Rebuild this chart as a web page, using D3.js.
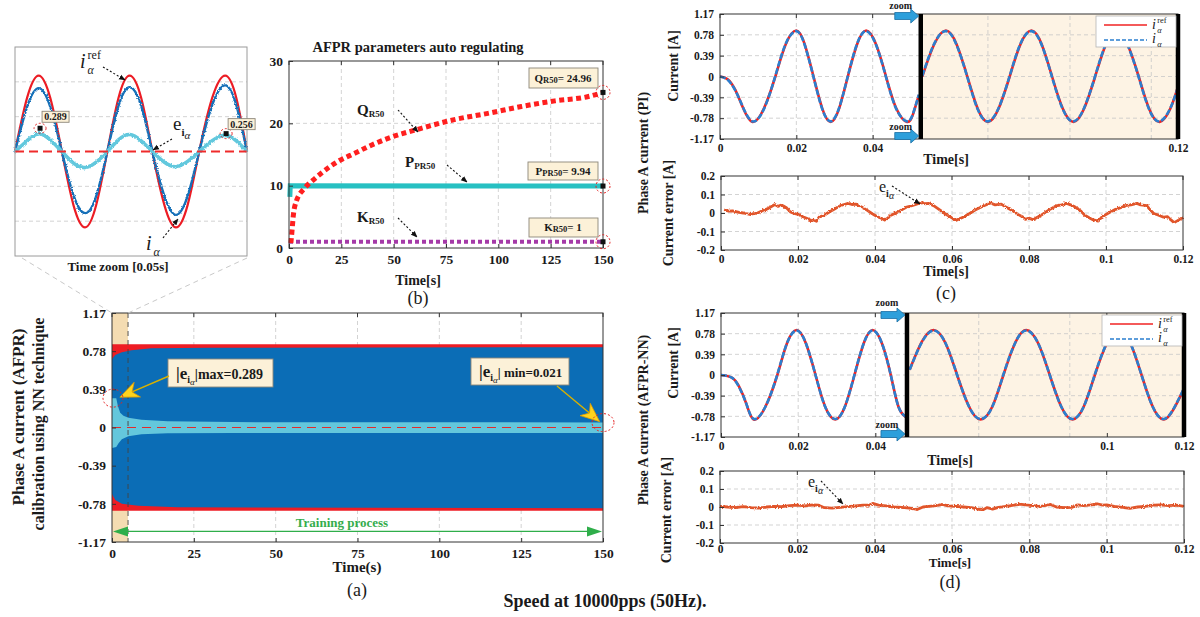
<!DOCTYPE html>
<html>
<head>
<meta charset="utf-8">
<script src="https://cdn.jsdelivr.net/npm/d3@7"></script>
<style>
  body { margin: 0; background: #fff; }
  svg { display: block; font-family: "Liberation Serif", "Times New Roman", serif; }
</style>
</head>
<body>
<div id="chart"></div>
<script>
// ---------------- data ----------------
// (a) 150 s training run, envelopes of the 50 Hz traces
var aTicksX = [0, 25, 50, 75, 100, 125, 150];
var aTicksY = [-1.17, -0.78, -0.39, 0, 0.39, 0.78, 1.17];
var aZoomWindow = [0, 4.9];
var aRefUpper = [[0, 0.85], [150, 0.85]];
var aRefLower = [[0, -0.85], [150, -0.85]];
var aIaUpper = [[0, 0.70], [1, 0.74], [3, 0.77], [6, 0.79], [12, 0.81], [30, 0.815], [150, 0.82]];
var aIaLower = [[0, -0.68], [1, -0.74], [3, -0.78], [8, -0.80], [20, -0.815], [150, -0.825]];
var aErrUpper = [[0, 0.30], [1.3, 0.30], [1.8, 0.22], [2.5, 0.15], [3.5, 0.12], [5, 0.10], [9, 0.078], [17, 0.065], [37, 0.055], [150, 0.052]];
var aErrLower = [[0, -0.21], [1.3, -0.20], [2, -0.16], [3, -0.12], [5, -0.09], [9, -0.07], [17, -0.06], [37, -0.056], [150, -0.055]];

// inset : first 0.05 s of the run
var insetT   = [0, 0.0026, 0.0051, 0.0076, 0.0101, 0.0126, 0.0151, 0.0175, 0.0199, 0.0223, 0.0247, 0.0272, 0.0296, 0.0322, 0.0347, 0.0372, 0.0397, 0.0425, 0.0453, 0.0477, 0.05];
var insetRef = [0, 0.6, 0.85, 0.6, 0, -0.6, -0.85, -0.6, 0, 0.6, 0.85, 0.6, 0, -0.6, -0.85, -0.6, 0, 0.6, 0.85, 0.6, 0];
var insetIa  = [0, 0.5, 0.71, 0.5, 0, -0.49, -0.69, -0.5, 0, 0.51, 0.72, 0.51, 0, -0.5, -0.71, -0.5, 0, 0.52, 0.74, 0.52, 0];
var insetErr = [0, 0.12, 0.2, 0.13, 0, -0.13, -0.18, -0.12, 0, 0.13, 0.19, 0.12, 0, -0.12, -0.17, -0.11, 0, 0.12, 0.18, 0.12, 0];
var insetGridY = [-0.78, -0.39, 0.39, 0.78];
var insetMarks = [[0.0054, 0.26, "0.289"], [0.0455, 0.2, "0.256"]];

// (b) AFPR parameters
var bTicksX = [0, 25, 50, 75, 100, 125, 150];
var bTicksY = [0, 10, 20, 30];
var bQ = [[0.9, 0.8], [1.5, 3], [2, 5], [3.5, 7.5], [7.5, 9.6], [11.5, 10.9], [15.4, 12], [23.4, 13.9], [31.4, 15.2], [39.3, 16.5], [47.3, 17.6], [63.2, 19.2], [79, 20.6], [95, 21.6], [111, 22.7], [127, 23.6], [143, 24.3], [150, 24.96]];
var bP = [[0.4, 8.2], [0.6, 10], [150, 9.94]];
var bK = [[0, 1], [150, 1]];
var bFinal = [24.96, 9.94, 1];

// (c) PI controller
var yCurTicks = [-1.17, -0.78, -0.39, 0, 0.39, 0.78, 1.17];
var errTicksX = [0, 0.02, 0.04, 0.06, 0.08, 0.1, 0.12];
var errTicksY = [-0.2, -0.1, 0, 0.1, 0.2];
var cTicksX = [0, 0.02, 0.04, 0.12];
var cGridX = [0.02, 0.04, 0.0702, 0.0917, 0.113];
var cZoomStart = 0.0526;
var cTime1 = [0, 0.002, 0.004, 0.006, 0.0085, 0.0115, 0.0145, 0.0172, 0.02, 0.0222, 0.0245, 0.0268, 0.029, 0.0312, 0.0335, 0.0359, 0.0383, 0.0409, 0.0435, 0.0462, 0.049, 0.0506, 0.0521];
var cRef1  = [0, -0.05, -0.25, -0.58, -0.85, -0.6, 0, 0.6, 0.86, 0.6, 0, -0.6, -0.85, -0.6, 0, 0.6, 0.86, 0.6, 0, -0.6, -0.85, -0.7, -0.35];
var cIa1   = [0, -0.06, -0.26, -0.57, -0.84, -0.61, 0.01, 0.61, 0.85, 0.59, -0.01, -0.61, -0.84, -0.59, 0.01, 0.61, 0.85, 0.59, -0.01, -0.61, -0.84, -0.69, -0.34];
var cTime2 = [0.053, 0.0561, 0.0592, 0.062, 0.0648, 0.0675, 0.0702, 0.073, 0.0759, 0.0787, 0.0816, 0.0843, 0.087, 0.0898, 0.0926, 0.0954, 0.0983, 0.1011, 0.104, 0.1068, 0.1097, 0.1124, 0.1152, 0.118, 0.12];
var cRef2  = [0, 0.6, 0.86, 0.6, 0, -0.6, -0.85, -0.6, 0, 0.6, 0.86, 0.6, 0, -0.6, -0.85, -0.6, 0, 0.6, 0.86, 0.6, 0, -0.6, -0.85, -0.6, -0.19];
var cIa2   = [0.01, 0.61, 0.85, 0.59, -0.01, -0.61, -0.84, -0.59, 0.01, 0.61, 0.85, 0.59, -0.01, -0.61, -0.84, -0.59, 0.01, 0.61, 0.85, 0.59, -0.01, -0.61, -0.84, -0.59, -0.2];
var cErr = [[0.0008, 0.017], [0.002, 0.01], [0.003, 0.012], [0.0047, 0.004], [0.0058, 0.0], [0.0066, -0.004], [0.0075, -0.008], [0.0085, -0.004], [0.0095, 0.0], [0.011, 0.015], [0.012, 0.022], [0.013, 0.034], [0.014, 0.046], [0.0148, 0.036], [0.0155, 0.042], [0.0162, 0.038], [0.017, 0.028], [0.018, 0.006], [0.019, -0.002], [0.02, -0.007], [0.0213, -0.02], [0.0227, -0.032], [0.0235, -0.042], [0.024, -0.038], [0.0248, -0.045], [0.0255, -0.022], [0.0268, -0.012], [0.028, 0.004], [0.0295, 0.022], [0.031, 0.04], [0.032, 0.046], [0.033, 0.052], [0.034, 0.046], [0.035, 0.048], [0.0365, 0.032], [0.038, 0.014], [0.0393, -0.004], [0.0406, -0.02], [0.0418, -0.03], [0.0425, -0.038], [0.0433, -0.028], [0.044, -0.014], [0.046, 0.006], [0.048, 0.03], [0.05, 0.042], [0.052, 0.056], [0.053, 0.05], [0.054, 0.052], [0.0555, 0.036], [0.057, 0.014], [0.0582, -0.004], [0.0595, -0.02], [0.0605, -0.034], [0.061, -0.04], [0.063, -0.022], [0.0645, -0.004], [0.066, 0.016], [0.068, 0.036], [0.07, 0.054], [0.0712, 0.044], [0.0728, 0.048], [0.074, 0.032], [0.0756, 0.014], [0.077, -0.006], [0.0784, -0.022], [0.079, -0.034], [0.08, -0.028], [0.081, -0.036], [0.083, -0.014], [0.085, 0.014], [0.087, 0.038], [0.0885, 0.044], [0.0898, 0.052], [0.0908, 0.044], [0.092, 0.032], [0.0935, 0.01], [0.0945, -0.012], [0.0955, -0.024], [0.0965, -0.036], [0.098, -0.044], [0.099, -0.02], [0.1, -0.008], [0.101, 0.004], [0.1025, 0.02], [0.104, 0.03], [0.105, 0.04], [0.1065, 0.044], [0.108, 0.052], [0.109, 0.044], [0.1106, 0.04], [0.1115, 0.016], [0.1125, -0.004], [0.1135, -0.01], [0.1148, -0.022], [0.116, -0.02], [0.1168, -0.036], [0.1177, -0.052], [0.1187, -0.04], [0.1195, -0.03], [0.12, -0.024]];

// (d) AFPR-NN controller
var dTicksX = [0, 0.02, 0.04, 0.1, 0.12];
var dGridX = [0.02, 0.04, 0.0668, 0.0904];
var dZoomStart = 0.0482;
var dTime1 = [0, 0.0028, 0.0047, 0.0066, 0.0085, 0.0115, 0.0146, 0.0171, 0.0196, 0.022, 0.0245, 0.027, 0.0296, 0.0321, 0.0346, 0.037, 0.0393, 0.0417, 0.044, 0.046, 0.048];
var dRef1  = [0, -0.05, -0.22, -0.55, -0.84, -0.6, 0, 0.6, 0.85, 0.6, 0, -0.6, -0.84, -0.6, 0, 0.6, 0.85, 0.6, 0, -0.6, -0.8];
var dIa1   = [0, -0.05, -0.23, -0.55, -0.83, -0.6, 0.01, 0.6, 0.84, 0.6, 0, -0.6, -0.83, -0.6, 0.01, 0.6, 0.84, 0.6, 0, -0.6, -0.79];
var dTime2 = [0.0489, 0.052, 0.0551, 0.0582, 0.0612, 0.0643, 0.0673, 0.0703, 0.0732, 0.0762, 0.0791, 0.0822, 0.0852, 0.0882, 0.0911, 0.094, 0.0969, 0.1, 0.1031, 0.1061, 0.109, 0.1119, 0.1148, 0.1175, 0.12];
var dRef2  = [0.1, 0.62, 0.85, 0.6, 0, -0.6, -0.84, -0.6, 0, 0.6, 0.85, 0.6, 0, -0.6, -0.84, -0.6, 0, 0.6, 0.85, 0.6, 0, -0.6, -0.84, -0.62, -0.26];
var dIa2   = [0.1, 0.61, 0.84, 0.6, 0, -0.6, -0.83, -0.6, 0.01, 0.6, 0.84, 0.6, 0, -0.6, -0.83, -0.6, 0.01, 0.6, 0.84, 0.6, 0, -0.6, -0.83, -0.61, -0.25];
var dErr = [[0, 0.004], [0.002, 0.0], [0.004, -0.004], [0.006, 0.002], [0.008, -0.003], [0.01, -0.006], [0.012, 0.0], [0.014, 0.004], [0.016, 0.002], [0.018, 0.008], [0.02, 0.01], [0.022, 0.006], [0.024, 0.012], [0.0255, 0.01], [0.027, -0.004], [0.029, -0.006], [0.031, -0.002], [0.033, 0.002], [0.035, 0.006], [0.037, 0.01], [0.0385, 0.01], [0.0395, 0.02], [0.041, 0.01], [0.043, 0.006], [0.045, 0.0], [0.047, -0.002], [0.049, -0.006], [0.051, -0.014], [0.0525, 0.0], [0.054, 0.004], [0.056, 0.008], [0.0575, 0.014], [0.059, 0.006], [0.061, 0.004], [0.063, 0.0], [0.065, -0.004], [0.0665, -0.01], [0.068, -0.016], [0.069, -0.004], [0.0705, -0.012], [0.072, -0.002], [0.074, 0.004], [0.076, 0.01], [0.0775, 0.016], [0.079, 0.012], [0.081, 0.008], [0.083, 0.004], [0.0855, 0.014], [0.087, 0.0], [0.089, -0.004], [0.091, -0.002], [0.0925, 0.012], [0.094, 0.008], [0.096, 0.012], [0.0975, 0.018], [0.099, 0.01], [0.1, 0.012], [0.102, 0.004], [0.104, -0.002], [0.106, -0.008], [0.108, 0.0], [0.11, 0.004], [0.112, 0.01], [0.114, 0.012], [0.116, 0.008], [0.118, 0.01], [0.12, 0.004]];

// ---------------- canvas ----------------
var width = 1200, height = 617;
var svg = d3.select("#chart").append("svg")
    .attr("width", width)
    .attr("height", height);

var defs = svg.append("defs");
defs.append("marker").attr("id", "arrowBlack")
    .attr("viewBox", "0 0 10 10").attr("refX", 9).attr("refY", 5)
    .attr("markerWidth", 6).attr("markerHeight", 6).attr("orient", "auto")
    .append("path").attr("d", "M0,1 L10,5 L0,9 Z").attr("fill", "#111");
var rough = defs.append("filter").attr("id", "rough")
    .attr("x", "-5%").attr("y", "-10%").attr("width", "110%").attr("height", "120%");
rough.append("feTurbulence").attr("type", "fractalNoise").attr("baseFrequency", "0.7")
    .attr("numOctaves", 2).attr("seed", 4).attr("result", "noise");
rough.append("feDisplacementMap").attr("in", "SourceGraphic").attr("in2", "noise")
    .attr("scale", 3).attr("xChannelSelector", "R").attr("yChannelSelector", "G");

// ---------------- helpers ----------------
function pairs(t, v) { return t.map(function(d, i) { return [d, v[i]]; }); }

function grid(g, xs, ys, gx, gy) {
    g.selectAll(null).data(gx).enter().append("line")
        .attr("x1", function(d) { return xs(d); }).attr("x2", function(d) { return xs(d); })
        .attr("y1", ys.range()[0]).attr("y2", ys.range()[1])
        .attr("stroke", "#c8c8c8").attr("stroke-width", 0.8).attr("stroke-dasharray", "4,3");
    g.selectAll(null).data(gy).enter().append("line")
        .attr("y1", function(d) { return ys(d); }).attr("y2", function(d) { return ys(d); })
        .attr("x1", xs.range()[0]).attr("x2", xs.range()[1])
        .attr("stroke", "#c8c8c8").attr("stroke-width", 0.8).attr("stroke-dasharray", "4,3");
}

function frameAxes(g, xs, ys, xt, yt, fs, pad) {
    var x0 = xs.range()[0], x1 = xs.range()[1], y0 = ys.range()[0], y1 = ys.range()[1];
    var fmt = function(d) { return String(d); };
    var xa = g.append("g").attr("transform", "translate(0," + y0 + ")")
        .call(d3.axisBottom(xs).tickValues(xt).tickFormat(fmt).tickSizeInner(-4).tickSizeOuter(0).tickPadding(pad === undefined ? 6 : pad));
    var ya = g.append("g").attr("transform", "translate(" + x0 + ",0)")
        .call(d3.axisLeft(ys).tickValues(yt).tickFormat(fmt).tickSizeInner(-4).tickSizeOuter(0).tickPadding(6));
    [xa, ya].forEach(function(a) {
        a.attr("font-family", null).attr("font-size", null);
        a.select(".domain").remove();
        a.selectAll("line").attr("stroke", "#333");
        a.selectAll("text").attr("font-size", fs).attr("font-weight", "bold").attr("fill", "#1a1a1a");
    });
    // mirrored ticks on top edge
    g.selectAll(null).data(xt).enter().append("line")
        .attr("x1", function(d) { return xs(d); }).attr("x2", function(d) { return xs(d); })
        .attr("y1", y1).attr("y2", y1 + 4).attr("stroke", "#333");
    g.append("rect").attr("x", x0).attr("y", y1).attr("width", x1 - x0).attr("height", y0 - y1)
        .attr("fill", "none").attr("stroke", "#333").attr("stroke-width", 1);
}

function rich(g, x, y, parts, size, anchor) {
    var t = g.append("text").attr("x", x).attr("y", y).attr("font-size", size)
        .attr("font-weight", "bold").attr("fill", "#1a1a1a").attr("text-anchor", anchor || "start");
    var cur = 0;
    parts.forEach(function(p) {
        var s = p.dy || 0;
        var ts = t.append("tspan").attr("dy", s - cur).text(p.t);
        if (p.size) ts.attr("font-size", p.size);
        if (p.italic) ts.attr("font-style", "italic");
        if (p.normal) ts.attr("font-weight", "normal");
        cur = s;
    });
    return t;
}

// italic i with stacked superscript / subscript, as separate text nodes
function iSymbol(g, x, y, size, sup) {
    g.append("text").attr("x", x).attr("y", y).attr("font-size", size).attr("font-style", "italic")
        .attr("fill", "#1a1a1a").text("i");
    var s = size * 0.6;
    if (sup) {
        g.append("text").attr("x", x + size * 0.38).attr("y", y - size * 0.45).attr("font-size", s)
            .attr("fill", "#1a1a1a").text(sup);
    }
    g.append("text").attr("x", x + size * 0.38).attr("y", y + size * 0.3).attr("font-size", s)
        .attr("font-style", "italic").attr("fill", "#1a1a1a").text("α");
}

function vtext(g, x, y, str, size) {
    g.append("text").attr("transform", "translate(" + x + "," + y + ") rotate(-90)")
        .attr("text-anchor", "middle").attr("dominant-baseline", "central")
        .attr("font-size", size).attr("font-weight", "bold").attr("fill", "#1a1a1a").text(str);
}

function dotArrow(g, x1, y1, x2, y2) {
    g.append("line").attr("x1", x1).attr("y1", y1).attr("x2", x2).attr("y2", y2)
        .attr("stroke", "#111").attr("stroke-width", 1.1).attr("stroke-dasharray", "2,2")
        .attr("marker-end", "url(#arrowBlack)");
}

function yellowArrow(g, x1, y1, x2, y2) {
    var a = Math.atan2(y2 - y1, x2 - x1), L = 19, W = 8;
    var ca = Math.cos(a), sa = Math.sin(a);
    g.append("line").attr("x1", x1).attr("y1", y1).attr("x2", x2 - ca * L * 0.6).attr("y2", y2 - sa * L * 0.6)
        .attr("stroke", "#d9b100").attr("stroke-width", 1.4);
    var bx = x2 - ca * L, by = y2 - sa * L, nx = x2 - ca * L * 0.7, ny = y2 - sa * L * 0.7;
    var pts = [[x2, y2], [bx - sa * W, by + ca * W], [nx, ny], [bx + sa * W, by - ca * W]];
    g.append("polygon").attr("points", pts.map(function(p) { return p.join(","); }).join(" "))
        .attr("fill", "#ffd41c").attr("stroke", "#e09a00").attr("stroke-width", 0.8);
}

function noteBox(g, x, y, w, h) {
    g.append("rect").attr("x", x).attr("y", y).attr("width", w).attr("height", h)
        .attr("fill", "#fcf1d8").attr("stroke", "#8d877a").attr("stroke-width", 0.9);
}

function dotCircle(g, cx, cy, rx, ry) {
    g.append("ellipse").attr("cx", cx).attr("cy", cy).attr("rx", rx).attr("ry", ry)
        .attr("fill", "none").attr("stroke", "#e52222").attr("stroke-width", 1).attr("stroke-dasharray", "2,2");
}

function blockArrow(g, x0, x1, y) {
    var p = [[x0, y - 3.5], [x1 - 8, y - 3.5], [x1 - 8, y - 7], [x1, y], [x1 - 8, y + 7], [x1 - 8, y + 3.5], [x0, y + 3.5]];
    g.append("polygon").attr("points", p.map(function(d) { return d.join(","); }).join(" "))
        .attr("fill", "#2d9fdb").attr("stroke", "#1b6ea3").attr("stroke-width", 0.8);
}

// ---------------- (a) training process ----------------
var ax = d3.scaleLinear().domain([0, 150]).range([112, 603]);
var ay = d3.scaleLinear().domain([-1.17, 1.17]).range([542, 313]);
var ga = svg.append("g");
ga.append("rect").attr("x", ax(aZoomWindow[0])).attr("y", ay(1.17))
    .attr("width", ax(aZoomWindow[1]) - ax(aZoomWindow[0])).attr("height", ay(-1.17) - ay(1.17))
    .attr("fill", "#f4dcb2");
grid(ga, ax, ay, aTicksX.slice(1, -1), []);

var envLine = d3.line().x(function(d) { return ax(d[0]); }).y(function(d) { return ay(d[1]); });
function band(up, lo, fill) {
    ga.append("path").attr("d", envLine(up.concat(lo.slice().reverse())) + "Z").attr("fill", fill);
}
band(aRefUpper, aRefLower, "#ee1d24");
band(aIaUpper, aIaLower, "#0b6db6");
band(aErrUpper, aErrLower, "#64c7dc");

ga.append("line").attr("x1", ax(0)).attr("x2", ax(150)).attr("y1", ay(0)).attr("y2", ay(0))
    .attr("stroke", "#e32a2a").attr("stroke-width", 1.2).attr("stroke-dasharray", "9,6");
ga.append("line").attr("x1", ax(aZoomWindow[1])).attr("x2", ax(aZoomWindow[1]))
    .attr("y1", ay(1.17)).attr("y2", ay(-1.17))
    .attr("stroke", "#444").attr("stroke-width", 0.9).attr("stroke-dasharray", "5,4");

// training arrow
var trY = ay(-1.062);
ga.append("line").attr("x1", ax(0) + 12).attr("x2", ax(150) - 12).attr("y1", trY).attr("y2", trY)
    .attr("stroke", "#2fae4a").attr("stroke-width", 1.3);
ga.append("polygon").attr("points", [[ax(0) + 1, trY], [ax(0) + 16, trY - 5], [ax(0) + 16, trY + 5]].join(" "))
    .attr("fill", "#2fae4a");
ga.append("polygon").attr("points", [[ax(150) - 1, trY], [ax(150) - 16, trY - 5], [ax(150) - 16, trY + 5]].join(" "))
    .attr("fill", "#2fae4a");
ga.append("text").attr("x", 342).attr("y", trY - 4).attr("text-anchor", "middle")
    .attr("font-size", 13).attr("font-weight", "bold").attr("fill", "#34ad4c").text("Training process");

frameAxes(ga, ax, ay, aTicksX, aTicksY, 13.5);

// annotations on (a)
noteBox(ga, 168, 359, 105, 28);
rich(ga, 176, 379, [{t: "|e"}, {t: "i", dy: 4, size: 10}, {t: "α", dy: 6, size: 9, italic: true, normal: true}, {t: "|max=0.289", dy: 0, size: 14}], 17);
yellowArrow(ga, 169, 376, ax(2.4), ay(0.31));
dotCircle(ga, ax(0.3), ay(0.3), 10, 9);

noteBox(ga, 471, 358, 98, 27);
rich(ga, 479, 377, [{t: "|e"}, {t: "i", dy: 4, size: 10}, {t: "α", dy: 6, size: 9, italic: true, normal: true}, {t: "| min=0.021", dy: 0, size: 13}], 17);
yellowArrow(ga, 557, 386, ax(149), ay(0.06));
dotCircle(ga, ax(150), ay(0.05), 11, 9);

ga.append("text").attr("x", 357).attr("y", 572).attr("text-anchor", "middle")
    .attr("font-size", 15).attr("font-weight", "bold").attr("fill", "#1a1a1a").text("Time(s)");
ga.append("text").attr("x", 357).attr("y", 596).attr("text-anchor", "middle")
    .attr("font-size", 18).attr("fill", "#1a1a1a").text("(a)");
vtext(ga, 18, 417, "Phase A current (AFPR)", 17);
vtext(ga, 38, 424, "calibration using NN technique", 16);

// ---------------- inset ----------------
var ix = d3.scaleLinear().domain([0, 0.05]).range([15, 247]);
var iy = d3.scaleLinear().domain([-1.17, 1.17]).range([256, 47]);
var gi = svg.append("g");
gi.append("line").attr("x1", 22).attr("y1", 258).attr("x2", ax(aZoomWindow[0])).attr("y2", ay(1.17))
    .attr("stroke", "#c9c9c9").attr("stroke-dasharray", "5,4");
gi.append("line").attr("x1", 247).attr("y1", 258).attr("x2", ax(aZoomWindow[1])).attr("y2", ay(1.17))
    .attr("stroke", "#c9c9c9").attr("stroke-dasharray", "5,4");
grid(gi, ix, iy, [], insetGridY);
var iLine = d3.line().curve(d3.curveNatural).x(function(d) { return ix(d[0]); }).y(function(d) { return iy(d[1]); });
gi.append("path").attr("d", iLine(pairs(insetT, insetRef))).attr("fill", "none").attr("stroke", "#ec1c24").attr("stroke-width", 2.2);
gi.append("path").attr("d", iLine(pairs(insetT, insetIa))).attr("fill", "none").attr("stroke", "#146fb8").attr("stroke-width", 2.4).attr("filter", "url(#rough)");
gi.append("path").attr("d", iLine(pairs(insetT, insetErr))).attr("fill", "none").attr("stroke", "#62c8dd").attr("stroke-width", 3.6).attr("filter", "url(#rough)");
gi.append("line").attr("x1", ix(0)).attr("x2", ix(0.05)).attr("y1", iy(0)).attr("y2", iy(0))
    .attr("stroke", "#ef2b2b").attr("stroke-width", 1.8).attr("stroke-dasharray", "9,5");
gi.append("rect").attr("x", 15).attr("y", 47).attr("width", 232).attr("height", 209)
    .attr("fill", "none").attr("stroke", "#9a9a9a").attr("stroke-width", 1);
insetMarks.forEach(function(m, k) {
    var cx = ix(m[0]), cy = iy(m[1]);
    dotCircle(gi, cx, cy, 6, 5);
    gi.append("rect").attr("x", cx - 2.5).attr("y", cy - 2.5).attr("width", 5).attr("height", 5).attr("fill", "#111");
    var bx = cx + 2, by = k === 0 ? cy - 17 : cy - 15;
    noteBox(gi, bx, by, 27, 11);
    gi.append("text").attr("x", bx + 13.5).attr("y", by + 9).attr("text-anchor", "middle")
        .attr("font-size", 10).attr("font-weight", "bold").attr("fill", "#1a1a1a").text(m[2]);
});
iSymbol(gi, 80, 68, 20, "ref");
dotArrow(gi, 103, 67, 125, 80);
rich(gi, 173, 130, [{t: "e", normal: true}, {t: "i", dy: 6, size: 11}, {t: "α", dy: 9, size: 11, italic: true, normal: true}], 19);
dotArrow(gi, 172, 139, 153, 150);
iSymbol(gi, 146, 250, 20, null);
dotArrow(gi, 163, 238, 178, 219);
gi.append("text").attr("x", 118).attr("y", 271).attr("text-anchor", "middle")
    .attr("font-size", 13).attr("font-weight", "bold").attr("fill", "#1a1a1a").text("Time zoom [0.05s]");

// ---------------- (b) parameters ----------------
var bx = d3.scaleLinear().domain([0, 150]).range([289, 603]);
var by = d3.scaleLinear().domain([0, 30]).range([248, 61]);
var gb = svg.append("g");
grid(gb, bx, by, bTicksX.slice(1, -1), bTicksY.slice(1, -1));
var bLine = d3.line().x(function(d) { return bx(d[0]); }).y(function(d) { return by(d[1]); });
gb.append("path").attr("d", bLine(bK)).attr("fill", "none").attr("stroke", "#a53aa8").attr("stroke-width", 4).attr("stroke-dasharray", "4,3");
gb.append("path").attr("d", bLine(bP)).attr("fill", "none").attr("stroke", "#27c0c2").attr("stroke-width", 5);
gb.append("path").attr("d", d3.line().curve(d3.curveMonotoneX).x(function(d) { return bx(d[0]); }).y(function(d) { return by(d[1]); })(bQ))
    .attr("fill", "none").attr("stroke", "#ff1f1f").attr("stroke-width", 5).attr("stroke-dasharray", "5,3.5");
frameAxes(gb, bx, by, bTicksX, bTicksY, 13.5);
bFinal.forEach(function(v) {
    dotCircle(gb, bx(150), by(v), 7, 7);
    gb.append("rect").attr("x", bx(150) - 2.5).attr("y", by(v) - 2.5).attr("width", 5).attr("height", 5).attr("fill", "#111");
});
noteBox(gb, 529, 68, 69, 20);
rich(gb, 563, 82, [{t: "Q"}, {t: "R50", dy: 1, size: 8.5}, {t: "= 24.96", dy: 0}], 11, "middle");
noteBox(gb, 528, 162, 70, 18);
rich(gb, 563, 175, [{t: "P"}, {t: "PR50", dy: 1, size: 8.5}, {t: "= 9.94", dy: 0}], 11, "middle");
noteBox(gb, 529, 218, 69, 19);
rich(gb, 563, 231, [{t: "K"}, {t: "R50", dy: 1, size: 8.5}, {t: "= 1", dy: 0}], 11, "middle");
rich(gb, 357, 115, [{t: "Q"}, {t: "R50", dy: 2, size: 9}], 15);
dotArrow(gb, 398, 110, 418, 132);
rich(gb, 405, 167, [{t: "P"}, {t: "PR50", dy: 2, size: 9}], 15);
dotArrow(gb, 447, 165, 467, 182);
rich(gb, 357, 222, [{t: "K"}, {t: "R50", dy: 2, size: 9}], 15);
dotArrow(gb, 398, 218, 417, 237);
gb.append("text").attr("x", 418).attr("y", 52).attr("text-anchor", "middle")
    .attr("font-size", 14.5).attr("font-weight", "bold").attr("fill", "#1a1a1a").text("AFPR parameters auto regulating");
gb.append("text").attr("x", 418).attr("y", 285).attr("text-anchor", "middle")
    .attr("font-size", 14).attr("font-weight", "bold").attr("fill", "#1a1a1a").text("Time[s]");
gb.append("text").attr("x", 418).attr("y", 304).attr("text-anchor", "middle")
    .attr("font-size", 18).attr("fill", "#1a1a1a").text("(b)");

// ---------------- (c) and (d) ----------------
function currentPanel(g, xs, ys, o) {
    g.append("rect").attr("x", xs(o.zoomStart)).attr("y", ys.range()[1])
        .attr("width", xs.range()[1] - xs(o.zoomStart)).attr("height", ys.range()[0] - ys.range()[1])
        .attr("fill", "#fdf3e4");
    grid(g, xs, ys, o.gridX, yCurTicks.slice(1, -1));
    var ln = d3.line().curve(d3.curveNatural).x(function(d) { return xs(d[0]); }).y(function(d) { return ys(d[1]); });
    o.segments.forEach(function(s) {
        g.append("path").attr("d", ln(pairs(s[0], s[1]))).attr("fill", "none").attr("stroke", "#f02323").attr("stroke-width", 2.6);
        g.append("path").attr("d", ln(pairs(s[0], s[2]))).attr("fill", "none").attr("stroke", "#2a7fd0").attr("stroke-width", 2.6).attr("stroke-dasharray", "6,2");
    });
    frameAxes(g, xs, ys, o.ticksX, yCurTicks, 11.5, 5);
    [xs(o.zoomStart), xs.range()[1]].forEach(function(x) {
        g.append("line").attr("x1", x).attr("x2", x).attr("y1", ys.range()[1]).attr("y2", ys.range()[0])
            .attr("stroke", "#000").attr("stroke-width", 4.5);
    });
    // legend
    var lx = xs.range()[1] - 82, ly = ys.range()[1] + 2;
    g.append("rect").attr("x", lx).attr("y", ly).attr("width", 80).attr("height", 31)
        .attr("fill", "#fff").attr("stroke", "#b5b5b5").attr("stroke-width", 0.8);
    g.append("line").attr("x1", lx + 8).attr("x2", lx + 51).attr("y1", ly + 9).attr("y2", ly + 9).attr("stroke", "#f02323").attr("stroke-width", 1.6);
    g.append("line").attr("x1", lx + 8).attr("x2", lx + 51).attr("y1", ly + 24).attr("y2", ly + 24).attr("stroke", "#2a7fd0").attr("stroke-width", 1.6).attr("stroke-dasharray", "4,2");
    iSymbol(g, lx + 56, ly + 13, 14, "ref");
    iSymbol(g, lx + 56, ly + 27, 14, null);
    // zoom markers
    var zx = xs(o.zoomStart);
    blockArrow(g, zx - 26, zx - 2, ys.range()[1] + 2);
    blockArrow(g, zx - 26, zx - 2, ys.range()[0] - 3);
    g.append("text").attr("x", zx - 20).attr("y", Math.max(ys.range()[1] - 7, 9)).attr("text-anchor", "middle")
        .attr("font-size", 10).attr("font-weight", "bold").attr("fill", "#1a1a1a").text("zoom");
    g.append("text").attr("x", zx - 20).attr("y", ys.range()[0] - 9).attr("text-anchor", "middle")
        .attr("font-size", 10).attr("font-weight", "bold").attr("fill", "#1a1a1a").text("zoom");
}

function errorPanel(g, xs, ys, data, lab, pad) {
    grid(g, xs, ys, errTicksX.slice(1, -1), errTicksY.slice(1, -1));
    g.append("path").attr("d", d3.line().x(function(d) { return xs(d[0]); }).y(function(d) { return ys(d[1]); })(data))
        .attr("fill", "none").attr("stroke", "#e1542a").attr("stroke-width", 2.8).attr("stroke-linejoin", "round").attr("filter", "url(#rough)");
    frameAxes(g, xs, ys, errTicksX, errTicksY, 11.5, pad);
    rich(g, lab[0], lab[1], [{t: "e", normal: true}, {t: "i", dy: 5, size: 10}, {t: "α", dy: 7, size: 10, italic: true, normal: true}], 16);
    dotArrow(g, lab[0] + 13, lab[1] - 6, lab[2], lab[3]);
}

// (c)
var gc = svg.append("g");
var cx1 = d3.scaleLinear().domain([0, 0.12]).range([720, 1178]);
var cy1 = d3.scaleLinear().domain([-1.17, 1.17]).range([139, 14]);
currentPanel(gc, cx1, cy1, {zoomStart: cZoomStart, gridX: cGridX, ticksX: cTicksX,
    segments: [[cTime1, cRef1, cIa1], [cTime2, cRef2, cIa2]]});
var cx2 = d3.scaleLinear().domain([0, 0.12]).range([721, 1183]);
var cy2 = d3.scaleLinear().domain([-0.2, 0.2]).range([250, 176]);
errorPanel(gc, cx2, cy2, cErr, [879, 192, 920, 204], 5);
vtext(gc, 673, 66, "Current [A]", 14);
vtext(gc, 668, 213, "Current error [A]", 14);
vtext(gc, 643, 153, "Phase A current (PI)", 14);
gc.append("text").attr("x", 946).attr("y", 164).attr("text-anchor", "middle").attr("font-size", 14).attr("font-weight", "bold").attr("fill", "#1a1a1a").text("Time[s]");
gc.append("text").attr("x", 946).attr("y", 276).attr("text-anchor", "middle").attr("font-size", 14).attr("font-weight", "bold").attr("fill", "#1a1a1a").text("Time[s]");
gc.append("text").attr("x", 946).attr("y", 299).attr("text-anchor", "middle").attr("font-size", 18).attr("fill", "#1a1a1a").text("(c)");

// (d)
var gd = svg.append("g");
var dx1 = d3.scaleLinear().domain([0, 0.12]).range([721, 1184]);
var dy1 = d3.scaleLinear().domain([-1.17, 1.17]).range([437, 313]);
currentPanel(gd, dx1, dy1, {zoomStart: dZoomStart, gridX: dGridX, ticksX: dTicksX,
    segments: [[dTime1, dRef1, dIa1], [dTime2, dRef2, dIa2]]});
var dx2 = d3.scaleLinear().domain([0, 0.12]).range([720, 1184]);
var dy2 = d3.scaleLinear().domain([-0.2, 0.2]).range([543, 471]);
errorPanel(gd, dx2, dy2, dErr, [808, 487, 843, 504], 2);
vtext(gd, 673, 363, "Current [A]", 14);
vtext(gd, 666, 510, "Current error [A]", 14);
vtext(gd, 643, 420, "Phase A current (AFPR-NN)", 14);
gd.append("text").attr("x", 950).attr("y", 465).attr("text-anchor", "middle").attr("font-size", 14).attr("font-weight", "bold").attr("fill", "#1a1a1a").text("Time[s]");
gd.append("text").attr("x", 950).attr("y", 567).attr("text-anchor", "middle").attr("font-size", 13).attr("font-weight", "bold").attr("fill", "#1a1a1a").text("Time[s]");
gd.append("text").attr("x", 950).attr("y", 588).attr("text-anchor", "middle").attr("font-size", 18).attr("fill", "#1a1a1a").text("(d)");

// caption
svg.append("text").attr("x", 605).attr("y", 607).attr("text-anchor", "middle")
    .attr("font-size", 18).attr("font-weight", "bold").attr("fill", "#1a1a1a").text("Speed at 10000pps (50Hz).");
</script>
</body>
</html>
